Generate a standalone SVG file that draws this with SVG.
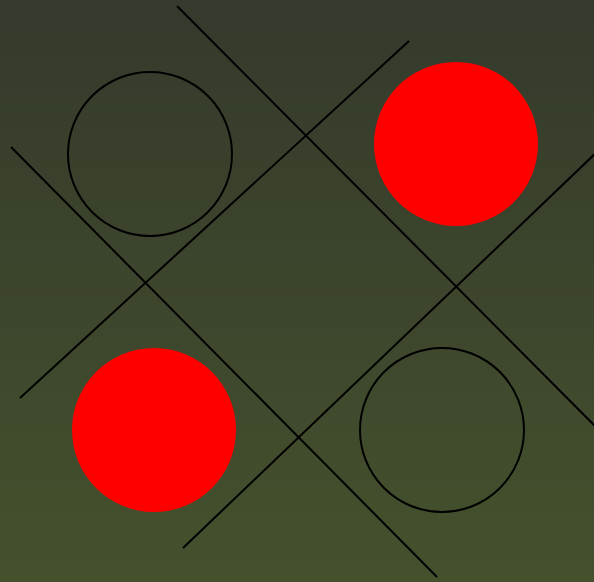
<svg xmlns="http://www.w3.org/2000/svg" width="594" height="582" viewBox="0 0 594 582">
<defs>
<linearGradient id="bg" x1="0" y1="0" x2="0" y2="1">
<stop offset="0" stop-color="#343a2c"/>
<stop offset="1" stop-color="#45512d"/>
</linearGradient>
<style>
.ln{stroke:#000;stroke-width:2;fill:none}
.o{fill:none;stroke:#000;stroke-width:2}
.x{fill:#ff0000}
</style>
</defs>
<rect width="594" height="582" fill="url(#bg)"/>
<g id="lines">
<line class="ln" x1="177" y1="6" x2="600" y2="431"/>
<line class="ln" x1="409" y1="41" x2="20" y2="398"/>
<line class="ln" x1="11" y1="147" x2="437" y2="577"/>
<line class="ln" x1="600" y1="149" x2="183" y2="548"/>
</g>
<g id="circle-tl"><circle class="o" cx="150" cy="154" r="82"/></g>
<g id="circle-tr"><circle class="x" cx="456" cy="144" r="82"/></g>
<g id="circle-bl"><circle class="x" cx="154" cy="430" r="82"/></g>
<g id="circle-br"><circle class="o" cx="442" cy="430" r="82"/></g>
</svg>
